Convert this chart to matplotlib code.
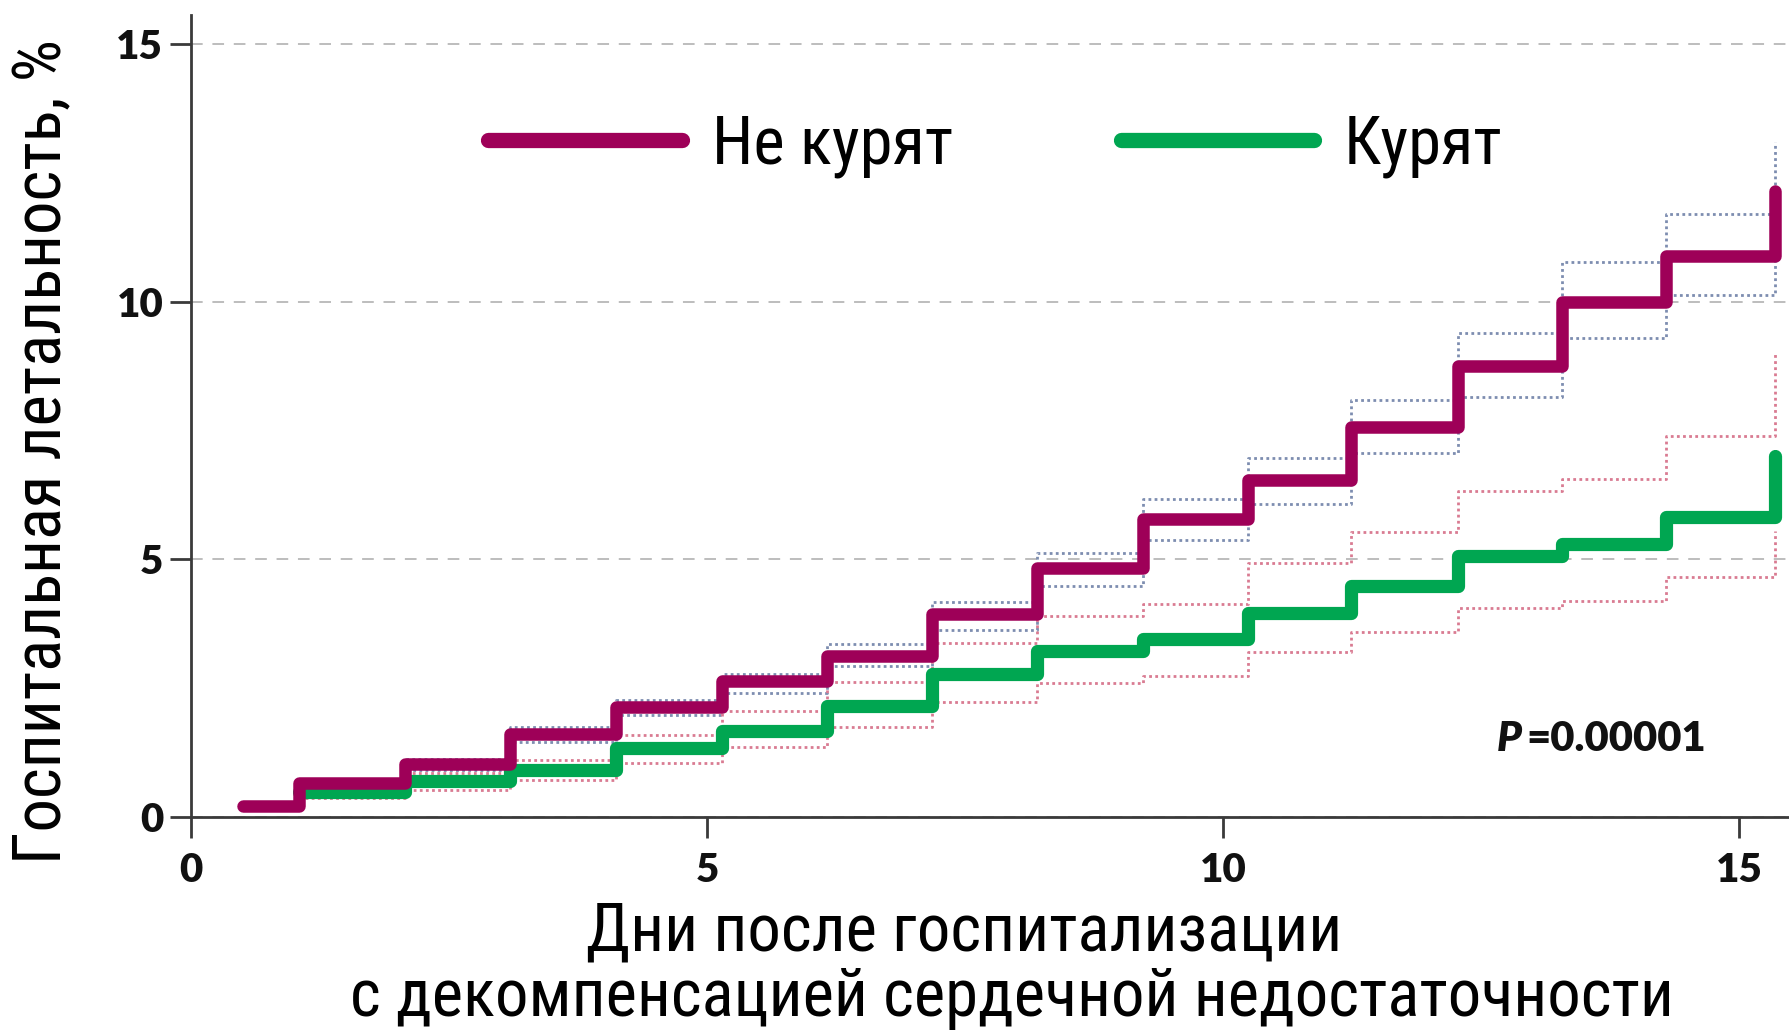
import matplotlib
matplotlib.use("Agg")
import matplotlib.pyplot as plt
from matplotlib.lines import Line2D

# дни, в которые меняется накопленная летальность (%)
days = [0.50, 1.05, 2.07, 3.09, 4.12, 5.14, 6.16, 7.18, 8.20, 9.22,
        10.24, 11.24, 12.27, 13.28, 14.29, 15.34]

# не курят
nonsmk = [0.22, 0.66, 1.02, 1.61, 2.13, 2.63, 3.13, 3.93, 4.83, 5.78,
          6.53, 7.56, 8.75, 10.00, 10.88, 12.14]
nonsmk_hi = [0.26, 0.74, 1.12, 1.74, 2.27, 2.77, 3.35, 4.17, 5.13, 6.16,
             6.96, 8.10, 9.40, 10.76, 11.70, 13.10]
nonsmk_lo = [0.18, 0.58, 0.92, 1.46, 1.98, 2.40, 2.92, 3.63, 4.48, 5.37,
             6.08, 7.07, 8.15, 9.30, 10.12, 11.20]

# курят (начинаются со 2-го шага)
smk_days = days[1:]
smk = [0.49, 0.69, 0.91, 1.33, 1.67, 2.16, 2.77, 3.23, 3.45, 3.96,
       4.48, 5.07, 5.30, 5.82, 7.00]
smk_hi = [0.56, 0.85, 1.10, 1.60, 2.05, 2.61, 3.37, 3.90, 4.13, 4.92,
          5.53, 6.32, 6.55, 7.39, 8.98]
smk_lo = [0.36, 0.52, 0.72, 1.05, 1.35, 1.74, 2.24, 2.60, 2.73, 3.20,
          3.58, 4.06, 4.19, 4.65, 5.55]

ticks = [0, 5, 10, 15]
labels = ["Не курят", "Курят"]
p_text = "=0.00001"

c_non = "#9e0058"
c_smk = "#00a651"
c_non_ci = "#7d8db0"
c_smk_ci = "#d97b92"

txt_font = ["Liberation Sans Narrow", "Roboto Condensed", "Liberation Sans", "DejaVu Sans"]
num_font = ["Lato", "DejaVu Sans"]

fig = plt.figure(figsize=(17.89, 10.32), dpi=100)
ax = fig.add_axes([191 / 1789, 1 - 817 / 1032, 1 - 191 / 1789, (817 - 15) / 1032])

ci_style = dict(where="post", lw=2.0, ls=(0, (1, 1.2)), zorder=2)
ax.step(days, nonsmk_hi, color=c_non_ci, **ci_style)
ax.step(days, nonsmk_lo, color=c_non_ci, **ci_style)
ax.step(smk_days, smk_hi, color=c_smk_ci, **ci_style)
ax.step(smk_days, smk_lo, color=c_smk_ci, **ci_style)

ax.step(smk_days, smk, where="post", color=c_smk, lw=9.5, zorder=3,
        solid_capstyle="round", solid_joinstyle="round")
ax.step(days, nonsmk, where="post", color=c_non, lw=9, zorder=4,
        solid_capstyle="round", solid_joinstyle="round")

ax.set_xlim(0, 15.48)
ax.set_ylim(0, 15.56)
ax.set_xticks(ticks)
ax.set_yticks(ticks)
for s in ["top", "right"]:
    ax.spines[s].set_visible(False)
for s in ["left", "bottom"]:
    ax.spines[s].set_color("#3a3a3a")
    ax.spines[s].set_linewidth(2)
ax.tick_params(axis="both", direction="out", length=15, width=2, color="#3a3a3a",
               labelsize=29)
ax.tick_params(axis="x", pad=10)
ax.tick_params(axis="y", pad=5)
for lab in ax.get_xticklabels() + ax.get_yticklabels():
    lab.set_fontfamily(num_font)
    lab.set_fontweight("heavy")
    lab.set_color("#111111")

ax.yaxis.grid(True, linestyle=(0, (6, 5)), color="#bdbdbd", lw=1.4)
ax.set_axisbelow(True)

handles = [Line2D([], [], color=c_non, lw=11, solid_capstyle="round"),
           Line2D([], [], color=c_smk, lw=11, solid_capstyle="round")]
ax.legend(handles, labels, ncol=2, frameon=False, loc="center left",
          bbox_to_anchor=(0.186, 0.837), borderpad=0, borderaxespad=0,
          handlelength=2.9, handletextpad=0.45, columnspacing=2.52,
          prop={"family": txt_font, "size": 48})

ax.text(12.89, 1.51, "P", ha="right", va="center", fontsize=30,
        fontweight="heavy", fontstyle="italic", family=num_font, color="#111111")
ax.text(12.94, 1.51, p_text, ha="left", va="center", fontsize=30,
        fontweight="heavy", family=num_font, color="#111111")

fig.text(964 / 1789, 1 - 950 / 1032, "Дни после госпитализации", ha="center",
         va="baseline", fontsize=48, family=txt_font)
fig.text(1012 / 1789, 1 - 1016 / 1032, "с декомпенсацией сердечной недостаточности",
         ha="center", va="baseline", fontsize=48, family=txt_font)
fig.text(43 / 1789, 1 - 451 / 1032, "Госпитальная летальность, %", rotation=90,
         ha="center", va="center", fontsize=48, family=txt_font)

fig.savefig("out.png", dpi=100)
